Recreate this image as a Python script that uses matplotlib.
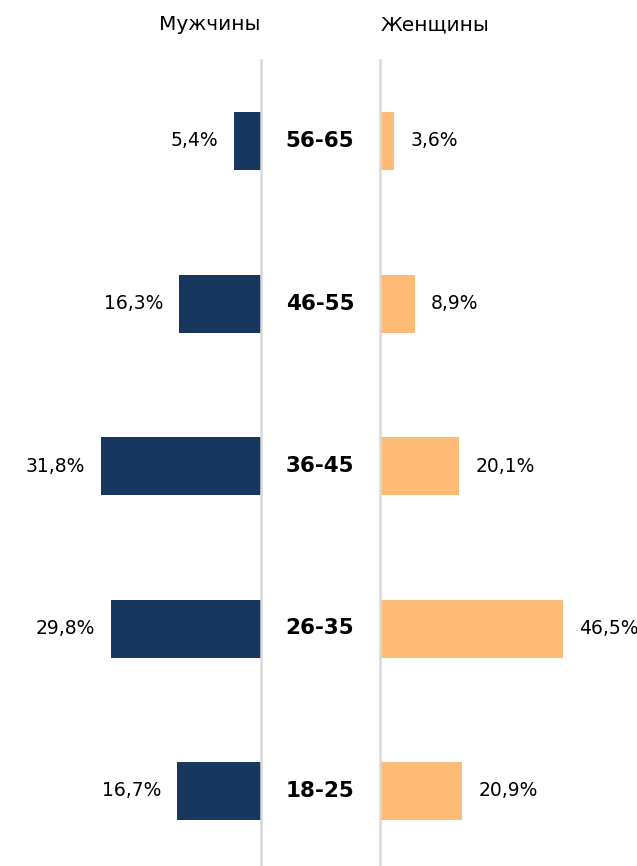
import matplotlib
matplotlib.use("Agg")
import matplotlib.pyplot as plt

categories = ["18-25", "26-35", "36-45", "46-55", "56-65"]
men = [16.7, 29.8, 31.8, 16.3, 5.4]
women = [20.9, 46.5, 20.1, 8.9, 3.6]
headers = ["Мужчины", "Женщины"]

plt.rcParams['font.family'] = ['DejaVu Sans']

W, H = 637, 866
fig = plt.figure(figsize=(W / 100, H / 100), dpi=100)

top_px = 60
ax_bottom = 0.0
ax_h = (H - top_px) / H
axL = fig.add_axes([0.0, ax_bottom, 261 / W, ax_h])
axR = fig.add_axes([380 / W, ax_bottom, (W - 380) / W, ax_h])

navy = "#17375E"
orange = "#FFBB78"
grid = "#D9D9D9"

ypos = list(range(len(categories)))
bar_h = 58 / 162.5
ylim = (-75 / 162.5, 4 + 81 / 162.5)

axL.barh(ypos, men, height=bar_h, color=navy)
axR.barh(ypos, women, height=bar_h, color=orange)

axL.set_xlim(261 / 5.03, 0)
axR.set_xlim(0, (W - 380) / 3.94)
for ax in (axL, axR):
    ax.set_ylim(*ylim)
    ax.set_xticks([])
    ax.set_yticks([])
    for s in ax.spines.values():
        s.set_visible(False)

axL.spines['right'].set_visible(True)
axL.spines['right'].set_color(grid)
axL.spines['right'].set_linewidth(1.8)
axR.spines['left'].set_visible(True)
axR.spines['left'].set_color(grid)
axR.spines['left'].set_linewidth(1.8)

fmt = lambda v: f"{v:.1f}%".replace('.', ',')
fs = 13.5
for y, v in zip(ypos, men):
    axL.annotate(fmt(v), (v, y), xytext=(-16, 0), textcoords="offset pixels",
                 ha="right", va="center", fontsize=fs, color="black")
for y, v in zip(ypos, women):
    axR.annotate(fmt(v), (v, y), xytext=(16, 0), textcoords="offset pixels",
                 ha="left", va="center", fontsize=fs, color="black",
                 annotation_clip=False)
for y, c in zip(ypos, categories):
    axL.annotate(c, (0, y), xytext=(59, 0), textcoords="offset pixels",
                 ha="center", va="center", fontsize=15.5, fontweight="bold",
                 color="black", annotation_clip=False)

fig.text(210 / W, 1 - 25 / H, headers[0], ha="center", va="center", fontsize=14.5)
fig.text(435 / W, 1 - 25 / H, headers[1], ha="center", va="center", fontsize=14.5)

fig.savefig("out.png", dpi=100, facecolor="white")
